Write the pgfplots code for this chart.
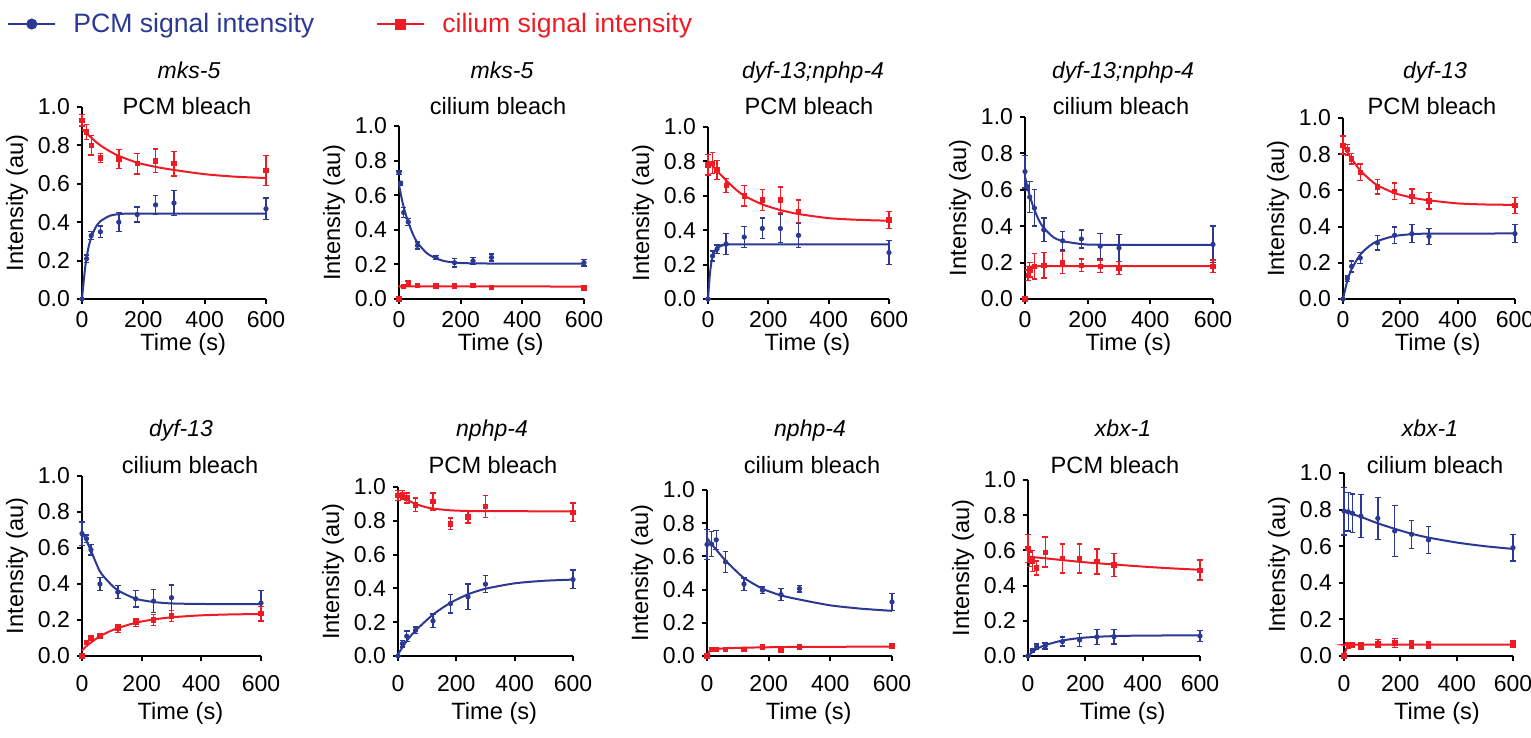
\documentclass[border=0pt]{standalone}
\usepackage{fontspec}
\setmainfont{Liberation Sans}
\usepackage{pgfplots}
\pgfplotsset{compat=1.18}
\definecolor{pcmblue}{RGB}{43,57,148}
\definecolor{cilred}{RGB}{237,28,36}

\pgfplotsset{
  frap/.style={
    scale only axis, anchor=south west,
    axis lines=left, axis line style={-, line width=1pt},
    xmin=0, xmax=600, ymin=0, ymax=1,
    xtick={0,200,400,600}, ytick={0,0.2,0.4,0.6,0.8,1.0},
    tick align=outside, major tick length=2.5pt,
    tick style={line width=1pt, black},
    clip=false,
    ticklabel style={font=\fontsize{11.5}{13}\selectfont},
    /pgf/number format/assume math mode=true,
    yticklabel style={/pgf/number format/.cd, fixed, fixed zerofill, precision=1},
    xlabel={Time (s)}, ylabel={Intensity (au)},
    every axis y label/.style={at={(axis description cs:0,0.5)}, xshift=-32.5pt, rotate=90,
      anchor=center, font=\fontsize{11.8}{14}\selectfont},
  },
  row1/.style={every axis x label/.style={at={(axis description cs:0.55,0)}, yshift=-22.5pt,
      anchor=center, font=\fontsize{11.8}{14}\selectfont}},
  row2/.style={every axis x label/.style={at={(axis description cs:0.55,0)}, yshift=-28.5pt,
      anchor=center, font=\fontsize{11.8}{14}\selectfont},
    xticklabel style={yshift=-3.5pt}},
  pcmfit/.style={pcmblue, line width=1pt, smooth, tension=0.4, no markers, forget plot},
  cilfit/.style={cilred, line width=1pt, smooth, tension=0.4, no markers, forget plot},
  pcmpts/.style={pcmblue, only marks, mark=*, mark size=1.1pt, forget plot,
    error bars/.cd, y dir=both, y explicit,
    error bar style={line width=0.7pt, pcmblue},
    error mark options={rotate=90, mark size=1.4pt, line width=0.7pt, pcmblue}},
  cilpts/.style={cilred, only marks, mark=square*, mark size=1.1pt, forget plot,
    error bars/.cd, y dir=both, y explicit,
    error bar style={line width=0.7pt, cilred},
    error mark options={rotate=90, mark size=1.4pt, line width=0.7pt, cilred}},
}

\begin{document}
\begin{tikzpicture}
\useasboundingbox (0,0) rectangle (765.5pt,369pt);

% ---------- row 1 ----------
% mks-5, PCM bleach
\begin{axis}[frap, row1, at={(41pt,219.5pt)}, width=92pt, height=96pt,
  legend columns=2,
  legend style={at={(-0.408,1.432)}, anchor=west, draw=none, fill=none, inner sep=0pt,
    font=\fontsize{13.3}{15}\selectfont,
    /tikz/every odd column/.append style={column sep=6.5pt},
    /tikz/every even column/.append style={column sep=29pt}},
  legend image code/.code={\draw[mark repeat=2, mark phase=2] plot coordinates {(0pt,0pt) (11.75pt,0pt) (23.5pt,0pt)};}]
\addlegendimage{pcmblue, line width=1pt, mark=*, mark size=2.25pt}
\addlegendentry{\textcolor{pcmblue}{PCM signal intensity}}
\addlegendimage{cilred, line width=1pt, mark=square*, mark size=2.25pt}
\addlegendentry{\textcolor{cilred}{cilium signal intensity}}
\addplot[cilfit] coordinates {(0,0.885)(20,0.855)(40,0.826)(60,0.80)(90,0.77)(120,0.745)(180,0.71)(240,0.688)(300,0.672)(400,0.65)(500,0.637)(600,0.63)};
\addplot[pcmfit] coordinates {(0,0)(10,0.16)(20,0.26)(30,0.32)(45,0.375)(60,0.405)(90,0.433)(120,0.442)(180,0.445)(600,0.445)};
\addplot[cilpts] coordinates {(0,0.93)+-(0,0.03) (15,0.87)+-(0,0.04) (30,0.80)+-(0,0.05) (60,0.735)+-(0,0.023) (120,0.73)+-(0,0.05) (180,0.705)+-(0,0.053) (240,0.72)+-(0,0.062) (300,0.705)+-(0,0.064) (600,0.67)+-(0,0.078)};
\addplot[pcmpts] coordinates {(0,0)+-(0,0) (15,0.21)+-(0,0.02) (30,0.33)+-(0,0.02) (60,0.35)+-(0,0.03) (120,0.40)+-(0,0.05) (180,0.44)+-(0,0.04) (240,0.49)+-(0,0.05) (300,0.50)+-(0,0.065) (600,0.47)+-(0,0.055)};
\end{axis}

% mks-5, cilium bleach
\begin{axis}[frap, row1, at={(199.5pt,219.5pt)}, width=92.5pt, height=86.5pt]
\addplot[pcmfit] coordinates {(0,0.66)(10,0.57)(20,0.50)(30,0.445)(45,0.375)(60,0.325)(90,0.265)(120,0.235)(150,0.218)(200,0.208)(300,0.205)(600,0.205)};
\addplot[cilfit] coordinates {(8,0.06)(15,0.072)(30,0.073)(600,0.072)};
\addplot[pcmpts] coordinates {(0,0.73)+-(0,0.01) (5,0.67)+-(0,0.01) (15,0.50)+-(0,0.03) (30,0.445)+-(0,0.02) (60,0.31)+-(0,0.02) (120,0.24)+-(0,0.01) (180,0.21)+-(0,0.025) (240,0.22)+-(0,0.02) (300,0.24)+-(0,0.02) (600,0.21)+-(0,0.02)};
\addplot[cilpts] coordinates {(0,0)+-(0,0) (15,0.072)+-(0,0.008) (30,0.09)+-(0,0.015) (60,0.077)+-(0,0.012) (120,0.075)+-(0,0.008) (180,0.075)+-(0,0.01) (240,0.077)+-(0,0.008) (300,0.067)+-(0,0.012) (600,0.064)+-(0,0.012)};
\end{axis}

% dyf-13;nphp-4, PCM bleach
\begin{axis}[frap, row1, at={(354pt,219.5pt)}, width=90.5pt, height=86pt]
\addplot[cilfit] coordinates {(0,0.80)(15,0.775)(30,0.745)(60,0.69)(90,0.64)(120,0.60)(180,0.55)(240,0.517)(300,0.494)(400,0.47)(500,0.46)(600,0.455)};
\addplot[pcmfit] coordinates {(0,0)(5,0.12)(10,0.2)(15,0.245)(20,0.27)(30,0.295)(45,0.31)(60,0.315)(90,0.318)(600,0.318)};
\addplot[cilpts] coordinates {(0,0.78)+-(0,0.06) (15,0.79)+-(0,0.06) (30,0.75)+-(0,0.055) (60,0.66)+-(0,0.04) (120,0.60)+-(0,0.06) (180,0.575)+-(0,0.06) (240,0.575)+-(0,0.075) (300,0.51)+-(0,0.065) (600,0.46)+-(0,0.05)};
\addplot[pcmpts] coordinates {(0,0)+-(0,0) (15,0.25)+-(0,0.03) (30,0.29)+-(0,0.025) (60,0.32)+-(0,0.06) (120,0.36)+-(0,0.06) (180,0.41)+-(0,0.06) (240,0.41)+-(0,0.08) (300,0.37)+-(0,0.07) (600,0.27)+-(0,0.07)};
\end{axis}

% dyf-13;nphp-4, cilium bleach
\begin{axis}[frap, row1, at={(512.5pt,219.5pt)}, width=94pt, height=91pt]
\addplot[pcmfit] coordinates {(0,0.67)(10,0.6)(20,0.54)(30,0.49)(45,0.43)(60,0.39)(90,0.34)(120,0.318)(180,0.302)(240,0.298)(600,0.297)};
\addplot[cilfit] coordinates {(8,0.13)(15,0.16)(20,0.17)(30,0.178)(60,0.18)(600,0.18)};
\addplot[pcmpts] coordinates {(0,0.70)+-(0,0.09) (5,0.62)+-(0,0.025) (15,0.56)+-(0,0.085) (30,0.50)+-(0,0.1) (60,0.38)+-(0,0.064) (120,0.32)+-(0,0.05) (180,0.33)+-(0,0.05) (240,0.29)+-(0,0.07) (300,0.28)+-(0,0.075) (600,0.30)+-(0,0.1)};
\addplot[cilpts] coordinates {(0,0)+-(0,0) (10,0.13)+-(0,0.03) (15,0.16)+-(0,0.04) (30,0.18)+-(0,0.07) (60,0.185)+-(0,0.07) (120,0.20)+-(0,0.06) (180,0.185)+-(0,0.035) (240,0.18)+-(0,0.035) (300,0.17)+-(0,0.035) (600,0.18)+-(0,0.035)};
\end{axis}

% dyf-13, PCM bleach
\begin{axis}[frap, row1, at={(671.5pt,219.5pt)}, width=86pt, height=90.5pt]
\addplot[cilfit] coordinates {(0,0.85)(15,0.81)(30,0.775)(60,0.71)(90,0.665)(120,0.628)(180,0.585)(240,0.56)(300,0.545)(400,0.528)(500,0.522)(600,0.52)};
\addplot[pcmfit] coordinates {(0,0)(15,0.10)(30,0.165)(60,0.245)(90,0.29)(120,0.32)(180,0.348)(240,0.358)(300,0.361)(600,0.362)};
\addplot[cilpts] coordinates {(0,0.85)+-(0,0.05) (15,0.825)+-(0,0.03) (30,0.775)+-(0,0.03) (60,0.70)+-(0,0.045) (120,0.62)+-(0,0.04) (180,0.595)+-(0,0.045) (240,0.567)+-(0,0.04) (300,0.543)+-(0,0.045) (600,0.517)+-(0,0.045)};
\addplot[pcmpts] coordinates {(0,0)+-(0,0) (15,0.112)+-(0,0.015) (30,0.18)+-(0,0.03) (60,0.227)+-(0,0.03) (120,0.31)+-(0,0.04) (180,0.352)+-(0,0.045) (240,0.361)+-(0,0.05) (300,0.346)+-(0,0.045) (600,0.361)+-(0,0.05)};
\end{axis}

% ---------- row 2 ----------
% dyf-13, cilium bleach
\begin{axis}[frap, row2, at={(41pt,41pt)}, width=89.5pt, height=90pt]
\addplot[pcmfit] coordinates {(0,0.69)(15,0.64)(30,0.585)(60,0.47)(90,0.41)(120,0.365)(180,0.318)(240,0.30)(300,0.292)(400,0.289)(600,0.288)};
\addplot[cilfit] coordinates {(0,0.03)(15,0.055)(30,0.075)(60,0.11)(90,0.135)(120,0.155)(180,0.185)(240,0.203)(300,0.215)(400,0.226)(500,0.231)(600,0.233)};
\addplot[pcmpts] coordinates {(0,0.68)+-(0,0.065) (15,0.652)+-(0,0.02) (30,0.59)+-(0,0.03) (60,0.40)+-(0,0.035) (120,0.355)+-(0,0.035) (180,0.318)+-(0,0.045) (240,0.305)+-(0,0.063) (300,0.324)+-(0,0.07) (600,0.294)+-(0,0.07)};
\addplot[cilpts] coordinates {(0,0)+-(0,0) (15,0.074)+-(0,0.01) (30,0.10)+-(0,0.015) (60,0.111)+-(0,0.01) (120,0.152)+-(0,0.02) (180,0.185)+-(0,0.02) (240,0.20)+-(0,0.03) (300,0.222)+-(0,0.03) (600,0.235)+-(0,0.04)};
\end{axis}

% nphp-4, PCM bleach
\begin{axis}[frap, row2, at={(199pt,41pt)}, width=87.5pt, height=84.5pt]
\addplot[cilfit] coordinates {(0,0.955)(15,0.94)(30,0.925)(60,0.90)(90,0.883)(120,0.872)(180,0.862)(240,0.858)(300,0.857)(600,0.856)};
\addplot[pcmfit] coordinates {(0,0.01)(30,0.09)(60,0.15)(120,0.245)(180,0.315)(240,0.365)(300,0.398)(400,0.43)(500,0.445)(600,0.452)};
\addplot[cilpts] coordinates {(0,0.95)+-(0,0.03) (15,0.954)+-(0,0.025) (30,0.935)+-(0,0.03) (60,0.895)+-(0,0.04) (120,0.915)+-(0,0.05) (180,0.782)+-(0,0.035) (240,0.822)+-(0,0.035) (300,0.885)+-(0,0.065) (600,0.85)+-(0,0.055)};
\addplot[pcmpts] coordinates {(0,0)+-(0,0) (15,0.073)+-(0,0.02) (30,0.117)+-(0,0.03) (60,0.152)+-(0,0.02) (120,0.208)+-(0,0.04) (180,0.31)+-(0,0.055) (240,0.35)+-(0,0.075) (300,0.425)+-(0,0.05) (600,0.453)+-(0,0.055)};
\end{axis}

% nphp-4, cilium bleach
\begin{axis}[frap, row2, at={(353.5pt,41pt)}, width=92.5pt, height=83pt]
\addplot[pcmfit] coordinates {(0,0.71)(30,0.64)(60,0.575)(90,0.52)(120,0.47)(180,0.405)(240,0.365)(300,0.34)(400,0.305)(500,0.285)(600,0.272)};
\addplot[cilfit] coordinates {(0,0)(10,0.035)(30,0.042)(60,0.046)(120,0.05)(300,0.055)(600,0.056)};
\addplot[pcmpts] coordinates {(0,0.672)+-(0,0.09) (15,0.674)+-(0,0.075) (30,0.70)+-(0,0.057) (60,0.567)+-(0,0.063) (120,0.433)+-(0,0.037) (180,0.396)+-(0,0.02) (240,0.37)+-(0,0.035) (300,0.406)+-(0,0.02) (600,0.326)+-(0,0.052)};
\addplot[cilpts] coordinates {(0,0)+-(0,0) (15,0.04)+-(0,0.01) (30,0.04)+-(0,0.01) (60,0.04)+-(0,0.01) (120,0.04)+-(0,0.01) (180,0.054)+-(0,0.006) (240,0.036)+-(0,0.01) (300,0.055)+-(0,0.01) (600,0.06)+-(0,0.012)};
\end{axis}

% xbx-1, PCM bleach
\begin{axis}[frap, row2, at={(514pt,41pt)}, width=86pt, height=88pt]
\addplot[cilfit] coordinates {(0,0.565)(60,0.555)(120,0.545)(180,0.535)(240,0.527)(300,0.52)(400,0.508)(500,0.498)(600,0.49)};
\addplot[pcmfit] coordinates {(0,0)(15,0.022)(30,0.04)(60,0.062)(120,0.088)(180,0.102)(240,0.109)(300,0.113)(400,0.116)(600,0.117)};
\addplot[cilpts] coordinates {(0,0.61)+-(0,0.08) (5,0.55)+-(0,0.04) (15,0.54)+-(0,0.06) (30,0.50)+-(0,0.04) (60,0.59)+-(0,0.085) (120,0.554)+-(0,0.083) (180,0.554)+-(0,0.082) (240,0.537)+-(0,0.07) (300,0.518)+-(0,0.066) (600,0.488)+-(0,0.057)};
\addplot[pcmpts] coordinates {(0,0)+-(0,0) (15,0.032)+-(0,0.01) (30,0.053)+-(0,0.015) (60,0.057)+-(0,0.017) (120,0.082)+-(0,0.026) (180,0.091)+-(0,0.036) (240,0.108)+-(0,0.042) (300,0.11)+-(0,0.042) (600,0.114)+-(0,0.032)};
\end{axis}

% xbx-1, cilium bleach
\begin{axis}[frap, row2, at={(672pt,41pt)}, width=84.5pt, height=91.5pt]
\addplot[pcmfit] coordinates {(0,0.79)(30,0.775)(60,0.76)(120,0.725)(180,0.695)(240,0.668)(300,0.647)(400,0.62)(500,0.60)(600,0.585)};
\addplot[cilfit] coordinates {(0,0)(10,0.045)(20,0.058)(30,0.062)(600,0.062)};
\addplot[pcmpts] coordinates {(0,0.792)+-(0,0.13) (15,0.788)+-(0,0.105) (30,0.78)+-(0,0.105) (60,0.764)+-(0,0.118) (120,0.752)+-(0,0.115) (180,0.683)+-(0,0.14) (240,0.665)+-(0,0.077) (300,0.634)+-(0,0.073) (600,0.592)+-(0,0.073)};
\addplot[cilpts] coordinates {(0,0)+-(0,0) (15,0.056)+-(0,0.015) (30,0.06)+-(0,0.015) (60,0.056)+-(0,0.018) (120,0.07)+-(0,0.02) (180,0.072)+-(0,0.025) (240,0.063)+-(0,0.02) (300,0.06)+-(0,0.02) (600,0.067)+-(0,0.018)};
\end{axis}

% panel titles
\tikzset{gene/.style={anchor=base, font=\fontsize{11.5}{13}\selectfont\itshape},
         cond/.style={anchor=base, font=\fontsize{11.8}{14}\selectfont}}
\node[gene] at (94.5pt,329.5pt) {mks-5};
\node[cond] at (93.5pt,311.5pt) {PCM bleach};
\node[gene] at (251pt,329.5pt) {mks-5};
\node[cond] at (249pt,311.5pt) {cilium bleach};
\node[gene] at (406.5pt,329.5pt) {dyf-13;nphp-4};
\node[cond] at (404.5pt,311.5pt) {PCM bleach};
\node[gene] at (561.5pt,329.5pt) {dyf-13;nphp-4};
\node[cond] at (560.5pt,311.5pt) {cilium bleach};
\node[gene] at (717.5pt,329.5pt) {dyf-13};
\node[cond] at (716pt,311.5pt) {PCM bleach};
\node[gene] at (90.5pt,150.7pt) {dyf-13};
\node[cond] at (95pt,132.3pt) {cilium bleach};
\node[gene] at (246pt,150.7pt) {nphp-4};
\node[cond] at (246.5pt,132.3pt) {PCM bleach};
\node[gene] at (405pt,150.7pt) {nphp-4};
\node[cond] at (406pt,132.3pt) {cilium bleach};
\node[gene] at (561.5pt,150.7pt) {xbx-1};
\node[cond] at (557.5pt,132.3pt) {PCM bleach};
\node[gene] at (715pt,150.7pt) {xbx-1};
\node[cond] at (717.5pt,132.3pt) {cilium bleach};
\end{tikzpicture}
\end{document}
